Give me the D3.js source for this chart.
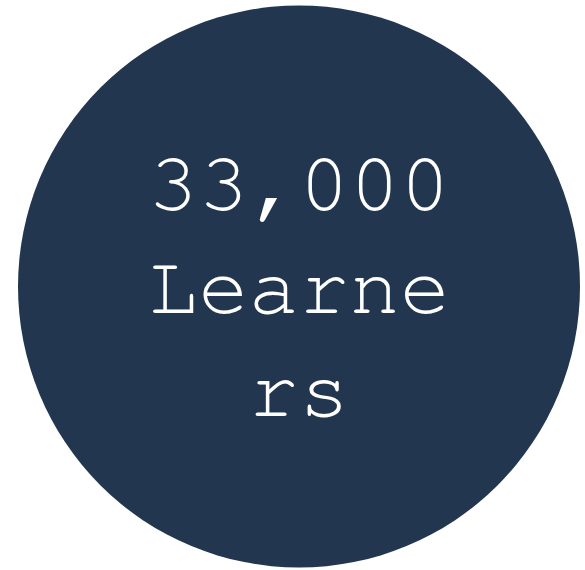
<!DOCTYPE html>
<html>
<head>
<meta charset="utf-8">
<script src="https://cdn.jsdelivr.net/npm/d3@7"></script>
<style>
  html, body { margin: 0; padding: 0; background: #fff; }
</style>
</head>
<body>
<script>
"use strict";
// label lines as shown in the picture (wrapped inside the circle)
var labelLines = ["33,000", "Learne", "rs"];
var circleColor = "#22374f";

(function () {
  var width = 585, height = 570;
  var cx = 299, cy = 286.5, r = 281;

  var svg = d3.select("body").append("svg")
    .attr("width", width)
    .attr("height", height);

  svg.append("circle")
    .attr("cx", cx)
    .attr("cy", cy)
    .attr("r", r)
    .attr("fill", circleColor);

  // baselines of the three lines
  var y = d3.scalePoint()
    .domain(d3.range(labelLines.length))
    .range([210, 416]);

  svg.selectAll("text.label")
    .data(labelLines)
    .enter().append("text")
    .attr("class", "label")
    .attr("x", cx)
    .attr("y", function (d, i) { return y(i); })
    .attr("text-anchor", "middle")
    .attr("fill", "#ffffff")
    .style("font-family", "'Nimbus Mono PS', 'Nimbus Mono L', 'FreeMono', 'Courier 10 Pitch', 'Liberation Mono', monospace")
    .style("font-weight", "300")
    .style("font-size", "84px")
    .text(function (d) { return d; });
})();
</script>
</body>
</html>
